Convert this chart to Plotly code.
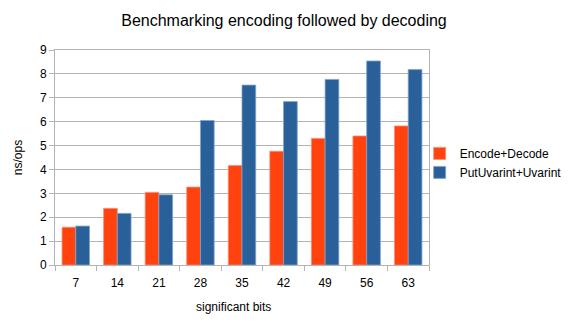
import plotly.graph_objects as go

categories = ["7", "14", "21", "28", "35", "42", "49", "56", "63"]
encode_decode = [1.58, 2.37, 3.04, 3.26, 4.16, 4.76, 5.30, 5.40, 5.82]
put_uvarint = [1.63, 2.16, 2.94, 6.05, 7.53, 6.84, 7.77, 8.54, 8.18]
y_ticks = list(range(0, 10))

FONT = "Liberation Sans, Arial, sans-serif"
GRID = "#b3b3b3"

fig = go.Figure()
fig.add_trace(go.Bar(
    x=categories, y=encode_decode, name="Encode+Decode",
    marker=dict(color="#ff420e", line=dict(color="#ff8a6e", width=0.8)),
))
fig.add_trace(go.Bar(
    x=categories, y=put_uvarint, name="PutUvarint+Uvarint",
    marker=dict(color="#2a6099", line=dict(color="#7fa3cc", width=0.8)),
))

fig.update_layout(
    width=568, height=330,
    margin=dict(l=55, r=139, t=50, b=65, autoexpand=False),
    paper_bgcolor="white", plot_bgcolor="white",
    font=dict(family=FONT, size=12, color="#000000"),
    barmode="group", bargap=0.34, bargroupgap=0,
    title=dict(text="Benchmarking encoding followed by decoding",
               x=0.5, xanchor="center", y=1 - 20 / 330, yanchor="middle",
               font=dict(size=16, family=FONT)),
    legend=dict(x=0.975, xanchor="left", y=0.475, yanchor="middle",
                font=dict(size=12, family=FONT), itemwidth=30,
                tracegroupgap=0, bgcolor="rgba(0,0,0,0)"),
    showlegend=True,
)

fig.update_xaxes(
    type="category", showline=True, linecolor=GRID, linewidth=1, mirror=True,
    ticks="outside", tickson="boundaries", ticklen=5, tickcolor=GRID,
    ticklabelstandoff=7,
    showgrid=False, tickfont=dict(size=12, family=FONT),
)
fig.update_yaxes(
    range=[0, 9], tickvals=y_ticks, showline=True, linecolor=GRID, linewidth=1,
    mirror=True, ticks="outside", ticklen=5, tickcolor=GRID,
    showgrid=True, gridcolor=GRID, gridwidth=1, zeroline=False,
    tickfont=dict(size=12, family=FONT),
    title=dict(text="ns/ops", font=dict(size=12, family=FONT), standoff=14),
)

fig.add_annotation(
    text="significant bits", xref="paper", yref="paper",
    x=(233 - 55) / 374, y=-(307 - 265) / 215, xanchor="center", yanchor="middle",
    showarrow=False, font=dict(size=12, family=FONT),
)

fig.write_html("out.html")
